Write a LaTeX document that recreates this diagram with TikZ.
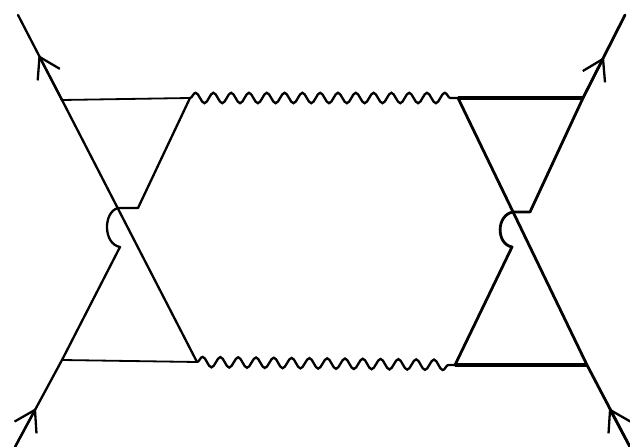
\documentclass[tikz,border=0pt]{standalone}
\usetikzlibrary{arrows.meta,decorations.pathmorphing}
\begin{document}
\begin{tikzpicture}[x=1bp,y=-1bp,
  lfer/.style={line width=2.3bp, line cap=round, line join=round},
  rfer/.style={line width=2.8bp, line cap=round, line join=round},
  lhor/.style={line width=1.8bp},
  rhor/.style={line width=3.3bp},
  photon/.style={line width=2.3bp, decorate, decoration={snake, segment length=17.8bp, amplitude=5.2bp}},
  arr/.style={-{Straight Barb[length=20bp, width=25bp, line width=2.3bp]}, line width=2.3bp}]
\useasboundingbox (0,0) rectangle (630,447);
% coordinates
\coordinate (A1) at (18,15);
\coordinate (L1) at (62,100);
\coordinate (W1) at (190,98);
\coordinate (W2) at (458,98);
\coordinate (R1) at (583,98);
\coordinate (A2) at (625,15);
\coordinate (L2) at (62,360);
\coordinate (W3) at (197,362);
\coordinate (W4) at (455,365);
\coordinate (R2) at (587,365);
\coordinate (A3) at (15,447);
\coordinate (A4) at (630,447);
% left hop
\coordinate (LC) at (118,208);
\coordinate (LS) at (138,208);
\coordinate (LH) at (120,247);
% right hop
\coordinate (RC) at (513,212);
\coordinate (RS) at (530,212);
\coordinate (RH) at (512,247);
% arrow tips
\coordinate (T1) at (38.5,55);
\coordinate (T2) at (604,57);
\coordinate (T3) at (36,408);
\coordinate (T4) at (609,408);
% left fermion lines
\draw[lfer] (A1) -- (L1) -- (W3);
\draw[lfer] (A3) -- (L2) -- (LH) .. controls (103,244) and (103,212) .. (LC) -- (LS) -- (W1);
% right fermion lines
\draw[rfer] (W2) -- (R2) -- (A4);
\draw[rfer] (A2) -- (R1) -- (RS) -- (RC) .. controls (496,215) and (496,244) .. (RH) -- (W4);
% horizontal lines
\draw[lhor] (L1) -- (W1);
\draw[lhor] (L2) -- (W3);
\draw[rhor] (W2) -- (R1);
\draw[rhor] (W4) -- (R2);
% photons
\draw[photon] (W1) -- (W2);
\draw[photon] (W3) -- (W4);
% arrows
\draw[arr] (L1) -- (T1);
\draw[arr] (R1) -- (T2);
\draw[arr] (A3) -- (T3);
\draw[arr] (A4) -- (T4);
\end{tikzpicture}
\end{document}
